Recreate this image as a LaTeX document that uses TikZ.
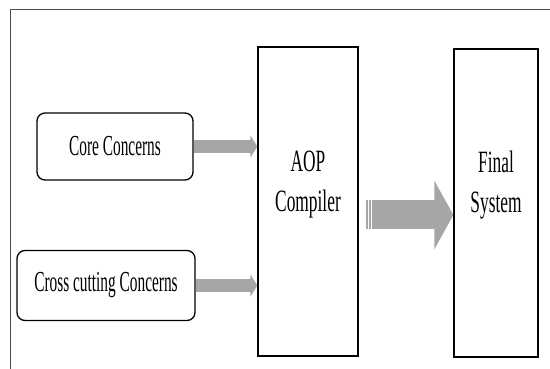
\documentclass[tikz,border=0pt]{standalone}
\usepackage{fontspec}
\usetikzlibrary{arrows.meta}
\newfontfamily\leftfont[FakeStretch=0.53]{Liberation Serif}
\newfontfamily\rightfont[FakeStretch=0.56]{Liberation Serif}
\definecolor{arrowgray}{gray}{0.65}

\begin{document}
\begin{tikzpicture}[x = 1pt, y = -1pt,
  concern/.style = {draw, line width = 1.3pt, rounded corners = 8pt, inner sep = 0pt,
    font = \leftfont\fontsize{29}{30}\selectfont},
  stage/.style = {draw, line width = 1.3pt, inner sep = 0pt},
  stagetext/.style = {inner sep = 0pt, align = center,
    font = \rightfont\fontsize{31}{40}\selectfont},
  feed/.style = {arrowgray, line width = 13pt, -{Triangle[length = 7pt, width = 22pt]}},
  bigfeed/.style = {arrowgray, line width = 29pt, -{Triangle[length = 19pt, width = 68pt]}}]
\useasboundingbox (0, 0) rectangle (550, 369);

% frame
\draw[black!70, line width = 0.8pt] (10.5, 369) -- (10.5, 9) -- (550, 9);

\node[concern, minimum width = 156pt, minimum height = 67pt] (core) at (115, 146.5) {Core Concerns};
\node[concern, minimum width = 178pt, minimum height = 70pt] (cross) at (106, 285.5) {Cross cutting Concerns};

\node[stage, minimum width = 100pt, minimum height = 309pt] (aop) at (308, 201.5) {};
\node[stage, minimum width = 84pt, minimum height = 308pt] (final) at (496, 203) {};
\node[stagetext] (aoptext) at ([yshift = 17pt]aop.center) {AOP\\Compiler};
\node[stagetext] (finaltext) at ([yshift = 18pt]final.center) {Final\\System};

\draw[feed] (core.east) -- (core.east -| aop.west);
\draw[feed] (cross.east) -- (cross.east -| aop.west);

\draw[bigfeed, shorten <= 7pt] ([yshift = -13.5pt]aop.east) -- ([yshift = -13.5pt]aop.east -| final.west);
\foreach \s in {9.5, 12.5}
  \draw[white, line width = 1pt] ([xshift = \s pt, yshift = 1pt]aop.east) -- ([xshift = \s pt, yshift = -28pt]aop.east);

\end{tikzpicture}
\end{document}
